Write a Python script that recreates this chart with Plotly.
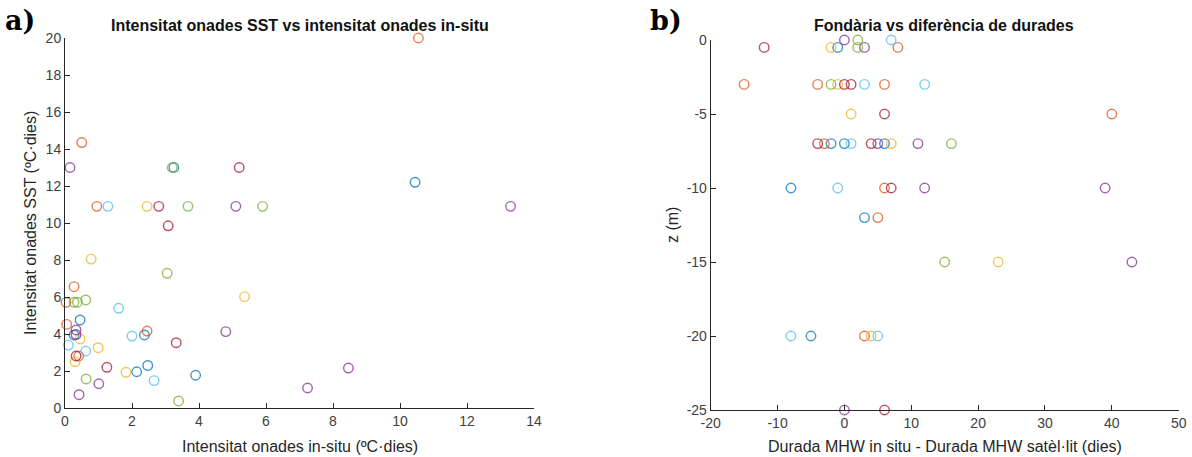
import plotly.graph_objects as go

# MATLAB default colour order
COLORS = {
    "blue": "#0072BD",
    "orange": "#D95319",
    "yellow": "#EDB120",
    "purple": "#7E2F8E",
    "green": "#77AC30",
    "lightblue": "#4DBEEE",
    "maroon": "#A2142F",
}

# Panel a): heatwave intensity, in-situ vs SST (ºC·dies)
intensity_insitu = [
    10.55, 10.45, 13.3, 0.15, 0.5, 3.2, 3.25, 5.2, 0.95, 1.28,
    2.45, 2.8, 3.67, 5.1, 5.9, 3.08, 0.78, 3.05, 0.27, 0.03,
    0.27, 0.37, 0.62, 1.6, 5.36, 0.05, 0.45, 0.33, 0.27, 0.33,
    0.45, 0.1, 2.0, 2.37, 2.45, 4.8, 3.32, 0.62, 0.99, 0.33,
    0.41, 0.3, 1.25, 1.82, 2.14, 2.47, 2.66, 3.9, 0.63, 1.01,
    0.42, 3.39, 7.24, 8.46,
]
intensity_sst = [
    20.0, 12.2, 10.9, 13.0, 14.35, 13.0, 13.0, 13.0, 10.9, 10.9,
    10.9, 10.9, 10.9, 10.9, 10.9, 9.85, 8.05, 7.28, 6.56, 5.71,
    5.72, 5.72, 5.84, 5.39, 6.02, 4.52, 4.76, 4.22, 3.95, 3.97,
    3.73, 3.4, 3.89, 3.95, 4.16, 4.13, 3.53, 3.08, 3.26, 2.81,
    2.81, 2.5, 2.2, 1.93, 1.96, 2.3, 1.48, 1.77, 1.57, 1.31,
    0.72, 0.38, 1.08, 2.16,
]
station_a = [
    "orange", "blue", "purple", "purple", "orange", "green", "blue", "maroon", "orange", "lightblue",
    "yellow", "maroon", "green", "purple", "green", "maroon", "yellow", "green", "orange", "orange",
    "green", "green", "green", "lightblue", "yellow", "orange", "blue", "purple", "blue", "purple",
    "yellow", "lightblue", "lightblue", "blue", "orange", "purple", "maroon", "lightblue", "yellow", "maroon",
    "orange", "yellow", "maroon", "yellow", "blue", "blue", "lightblue", "blue", "green", "purple",
    "purple", "green", "purple", "purple",
]

# Panel b): depth vs duration difference (dies)
duration_diff = [
    0, 2, 7,
    -12, -2, -1, 2, 3, 8,
    -15, -4, -2, -1, 0, 1, 3, 6, 12,
    1, 6, 40,
    -4, -3, -2, 0, 1, 4, 5, 6, 7, 11, 16,
    -8, -1, 6, 7, 12, 39,
    3, 5,
    15, 23, 43,
    -8, -5, 3, 4, 5,
    0, 6,
]
depth = [
    0, 0, 0,
    -0.5, -0.5, -0.5, -0.5, -0.5, -0.5,
    -3, -3, -3, -3, -3, -3, -3, -3, -3,
    -5, -5, -5,
    -7, -7, -7, -7, -7, -7, -7, -7, -7, -7, -7,
    -10, -10, -10, -10, -10, -10,
    -12, -12,
    -15, -15, -15,
    -20, -20, -20, -20, -20,
    -25, -25,
]
station_b = [
    "purple", "green", "lightblue",
    "maroon", "yellow", "blue", "green", "purple", "orange",
    "orange", "orange", "green", "yellow", "maroon", "maroon", "lightblue", "orange", "lightblue",
    "yellow", "maroon", "orange",
    "maroon", "orange", "blue", "blue", "lightblue", "maroon", "purple", "blue", "yellow", "purple", "green",
    "blue", "lightblue", "orange", "maroon", "purple", "purple",
    "blue", "orange",
    "green", "yellow", "purple",
    "lightblue", "blue", "orange", "yellow", "lightblue",
    "purple", "maroon",
]

# Tick positions and labels (plain hyphen for negatives)
ticks_a_x = [0, 2, 4, 6, 8, 10, 12, 14]
ticks_a_y = [0, 2, 4, 6, 8, 10, 12, 14, 16, 18, 20]
ticks_b_x = [-20, -10, 0, 10, 20, 30, 40, 50]
ticks_b_y = [-25, -20, -15, -10, -5, 0]

FONT = "Liberation Sans, Arial, sans-serif"
TEXT = "#262626"

fig = go.Figure()


def add_points(xs, ys, keys, xaxis, yaxis):
    for key in COLORS:
        px = [x for x, k in zip(xs, keys) if k == key]
        py = [y for y, k in zip(ys, keys) if k == key]
        if not px:
            continue
        fig.add_trace(go.Scatter(
            x=px, y=py, mode="markers", xaxis=xaxis, yaxis=yaxis,
            showlegend=False, cliponaxis=False,
            marker=dict(symbol="circle-open", size=9.5, opacity=0.75,
                        color=COLORS[key], line=dict(width=1.4, color=COLORS[key])),
        ))


add_points(intensity_insitu, intensity_sst, station_a, "x", "y")
add_points(duration_diff, depth, station_b, "x2", "y2")

W, H = 1192, 457
T, B = 38, 47
plot_h = H - T - B

axis_style = dict(
    showgrid=False, zeroline=False, showline=True, linecolor=TEXT, linewidth=1,
    ticks="inside", ticklen=5, tickcolor=TEXT, mirror=False, automargin=False,
    tickfont=dict(family=FONT, size=14, color="#404040"),
)


def tick_args(vals):
    return dict(tickmode="array", tickvals=vals, ticktext=[str(v) for v in vals])


fig.update_layout(
    width=W, height=H,
    margin=dict(l=0, r=0, t=T, b=B),
    paper_bgcolor="white", plot_bgcolor="white",
    xaxis=dict(domain=[65 / W, 534 / W], range=[0, 14], anchor="y",
               **tick_args(ticks_a_x), **axis_style),
    yaxis=dict(domain=[(410 - 408) / plot_h, 1], range=[0, 20], anchor="x",
               **tick_args(ticks_a_y), **axis_style),
    xaxis2=dict(domain=[710.7 / W, 1178.7 / W], range=[-20, 50], anchor="y2",
                **tick_args(ticks_b_x), **axis_style),
    yaxis2=dict(domain=[0, (410 - 40) / plot_h], range=[-25, 0], anchor="x2",
                **tick_args(ticks_b_y), **axis_style),
)


def px_x(p):
    return p / W


def px_y(p):
    # paper coordinates measured from the bottom of the plotting area
    return (H - B - p) / plot_h


annotations = [
    dict(text="<b>Intensitat onades SST vs intensitat onades in-situ</b>", x=px_x(299.5), y=px_y(25),
         font=dict(family=FONT, size=16, color="#111")),
    dict(text="<b>Fondària vs diferència de durades</b>", x=px_x(944), y=px_y(25),
         font=dict(family=FONT, size=16, color="#111")),
    dict(text="Intensitat onades in-situ (ºC·dies)", x=px_x(299.5), y=px_y(447),
         font=dict(family=FONT, size=16, color=TEXT)),
    dict(text="Durada MHW in situ - Durada MHW satèl·lit (dies)", x=px_x(944.7), y=px_y(447),
         font=dict(family=FONT, size=16, color=TEXT)),
    dict(text="Intensitat onades SST (ºC·dies)", x=px_x(30), y=px_y(223), textangle=-90,
         font=dict(family=FONT, size=16, color=TEXT)),
    dict(text="z (m)", x=px_x(672), y=px_y(225), textangle=-90,
         font=dict(family=FONT, size=16, color=TEXT)),
    dict(text="<b>a)</b>", x=px_x(20), y=px_y(20),
         font=dict(family="DejaVu Serif, serif", size=27, color="#000")),
    dict(text="<b>b)</b>", x=px_x(666), y=px_y(20),
         font=dict(family="DejaVu Serif, serif", size=27, color="#000")),
]
for a in annotations:
    a.update(xref="paper", yref="paper", showarrow=False, xanchor="center", yanchor="middle")
fig.update_layout(annotations=annotations)

fig.write_html("out.html")
